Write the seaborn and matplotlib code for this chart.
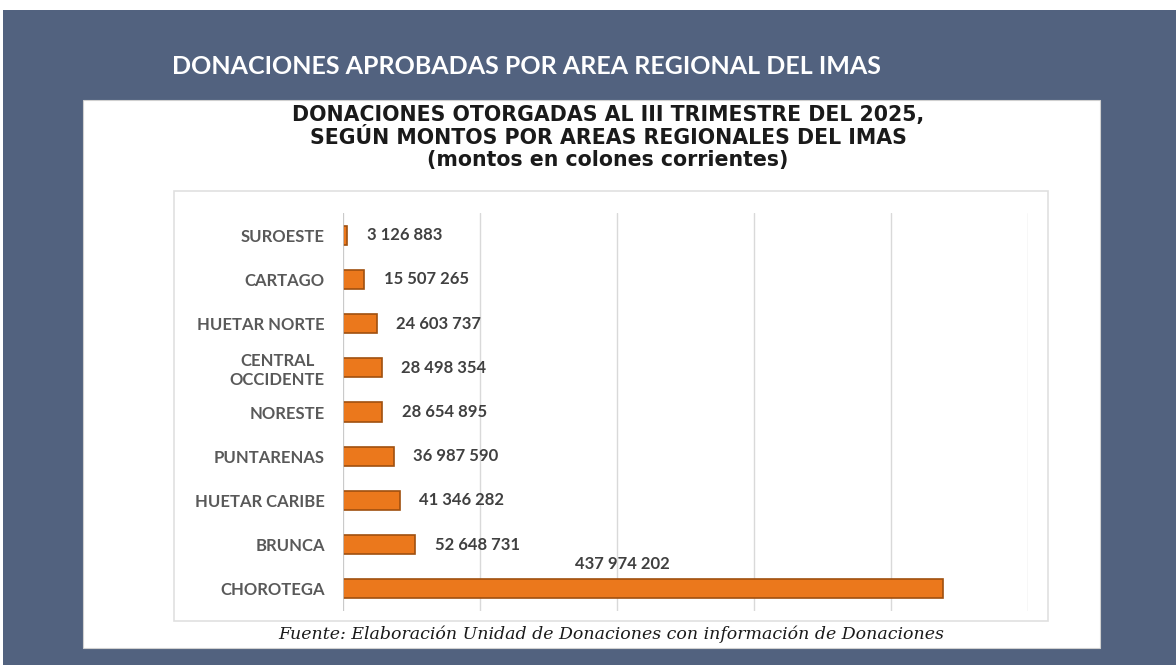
import matplotlib
matplotlib.use("Agg")
import matplotlib.pyplot as plt
import matplotlib.patches as mpatches
import pandas as pd
import seaborn as sns

# data (colones corrientes)
regiones = ["SUROESTE", "CARTAGO", "HUETAR NORTE", "CENTRAL\nOCCIDENTE", "NORESTE",
            "PUNTARENAS", "HUETAR CARIBE", "BRUNCA", "CHOROTEGA"]
montos = [3126883, 15507265, 24603737, 28498354, 28654895,
          36987590, 41346282, 52648731, 437974202]
etiquetas = ["3 126 883", "15 507 265", "24 603 737", "28 498 354", "28 654 895",
             "36 987 590", "41 346 282", "52 648 731", "437 974 202"]

df = pd.DataFrame({"region": regiones, "monto": montos})

sns.set_theme(style="white")
W, H = 1176, 665
fig = plt.figure(figsize=(W / 100, H / 100), dpi=100)
fig.patch.set_facecolor("white")

# slide background
fig.patches.append(mpatches.Rectangle((3 / W, 0), 1, 1 - 10 / H, transform=fig.transFigure,
                                      facecolor="#52627F", edgecolor="none", zorder=0))
# white chart panel
fig.patches.append(mpatches.Rectangle((83 / W, 1 - 648 / H), (1100 - 83) / W, (648 - 100) / H,
                                      transform=fig.transFigure, facecolor="white",
                                      edgecolor="#d0d0d0", lw=0.8, zorder=1))
# inner plot area box
fig.patches.append(mpatches.Rectangle((174 / W, 1 - 621 / H), (1048 - 174) / W, (621 - 191) / H,
                                      transform=fig.transFigure, facecolor="none",
                                      edgecolor="#e0e0e0", lw=1.2, zorder=2))

fig.text(172 / W, 1 - 66 / H, "DONACIONES APROBADAS POR AREA REGIONAL DEL IMAS",
         color="white", fontsize=18, fontweight="bold", family=["Lato", "DejaVu Sans"],
         ha="left", va="center")

titulo = ["DONACIONES OTORGADAS AL III TRIMESTRE DEL 2025,",
          "SEGÚN MONTOS POR AREAS REGIONALES DEL IMAS",
          "(montos en colones corrientes)"]
for i, t in enumerate(titulo):
    fig.text(608 / W, 1 - (115 + 22.5 * i) / H, t, color="#1a1a1a", fontsize=14.8,
             fontweight="bold", family=["DejaVu Sans"],
             ha="center", va="center")

fig.text(611 / W, 1 - 634 / H,
         "Fuente: Elaboración Unidad de Donaciones con información de Donaciones",
         color="#1a1a1a", fontsize=12.5, style="italic", family=["DejaVu Serif"],
         ha="center", va="center")

ax = fig.add_axes([343 / W, 1 - 611 / H, (1028 - 343) / W, (611 - 213) / H])
ax.set_zorder(3)
ax.patch.set_alpha(0)
sns.barplot(data=df, x="monto", y="region", orient="h", color="#EB781C",
            width=0.43, edgecolor="#A0500F", linewidth=1.2, saturation=1, ax=ax)

ax.set_xlim(0, 500_000_000)
ax.set_xticks(range(0, 500_000_001, 100_000_000))
ax.xaxis.grid(True, color="#d9d9d9", lw=1)
ax.set_axisbelow(True)
for s in ax.spines.values():
    s.set_visible(False)
ax.axvline(0, color="#c8c8c8", lw=1.2, zorder=1)
ax.tick_params(axis="x", length=0, labelbottom=False)
ax.tick_params(axis="y", length=0, pad=13)
ax.set_xlabel("")
ax.set_ylabel("")
for lab in ax.get_yticklabels():
    lab.set_fontfamily(["Lato", "DejaVu Sans"])
    lab.set_fontweight("bold")
    lab.set_fontsize(12)
    lab.set_color("#595959")
    lab.set_multialignment("center")

for i, (v, t) in enumerate(zip(montos, etiquetas)):
    if v > 400_000_000:
        ax.annotate(t, (v * 0.465, i), xytext=(0, 18), textcoords="offset points",
                    ha="center", va="center", fontsize=12, fontweight="bold",
                    color="#404040", family=["Lato", "DejaVu Sans"])
    else:
        ax.annotate(t, (v, i), xytext=(14, 0), textcoords="offset points",
                    ha="left", va="center", fontsize=12, fontweight="bold",
                    color="#404040", family=["Lato", "DejaVu Sans"])

fig.savefig("out.png", dpi=100)
